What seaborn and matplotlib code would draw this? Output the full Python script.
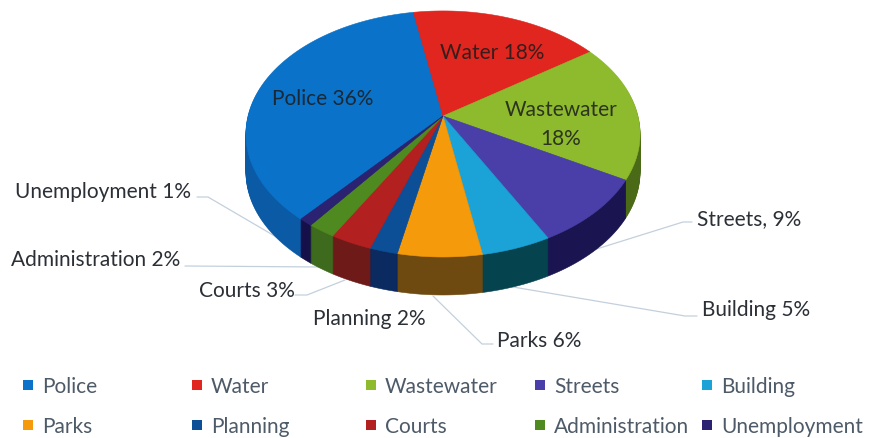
import numpy as np
import matplotlib
matplotlib.use("Agg")
import matplotlib.pyplot as plt
from matplotlib.path import Path
from matplotlib.transforms import Affine2D, Transform
import seaborn as sns

categories = ["Police", "Water", "Wastewater", "Streets", "Building",
              "Parks", "Planning", "Courts", "Administration", "Unemployment"]
shares = [36, 18, 18, 9, 5, 6, 2, 3, 2, 1]
top_colors = ["#0a72c8", "#e0261e", "#8ebb2e", "#4a3fa8", "#1ba3d8",
              "#f59a0a", "#0c4f96", "#b32020", "#4f8a20", "#2b2272"]
side_colors = ["#0a5aa5", "#a01c18", "#4a6a18", "#1a1550", "#05434f",
               "#6e4a10", "#0a2a60", "#6e1a18", "#3d6a1c", "#15104a"]

callouts = ["Unemployment 1%", "Administration 2%", "Courts 3%", "Planning 2%", "Parks 6%",
            "Building 5%", "Streets, 9%"]
callout_xy = [(15, 192), (11, 260), (199, 291), (313, 319), (497, 341), (702, 310), (697, 219)]
callout_lines = [
    [(197, 198), (208, 198), (290, 246)],
    [(185, 267), (322, 268)],
    [(295, 296), (307, 296), (345, 281)],
    [(493, 345), (482, 345), (433, 297)],
    [(697, 317), (685, 317), (513, 288)],
    [(692, 223), (683, 223), (587, 253)],
]
inside_labels = [("Police 36%", 323, 99), ("Water 18%", 492, 53),
                 ("Wastewater", 561, 110), ("18%", 561, 139)]
legend_rows = [386, 426]
legend_columns = [28, 197, 371, 540, 707]

PIE_CENTER = (443, 117)
DEPTH = 38
LABEL_SIZE = 15


class Perspective(Transform):
    """Projects the unit disc of a pie onto a tilted plane, in pixels."""
    input_dims = output_dims = 2
    has_inverse = False

    def __init__(self, a=195.0, b=120.4, p=0.146):
        super().__init__()
        self.a, self.b, self.p = a, b, p

    def transform_non_affine(self, xy):
        xy = np.asarray(xy)
        w = 1 + self.p * xy[:, 1]
        return np.column_stack([self.a * xy[:, 0] / w, -self.b * xy[:, 1] / w])

    def transform_path_non_affine(self, path):
        # Flatten the arcs first, since a projection does not keep Bezier control points.
        steps = np.linspace(0, 1, 24)
        points = np.vstack([curve(steps) for curve, _ in path.iter_bezier()])
        return Path(self.transform_non_affine(points))


sns.set_theme(style="white")
plt.rcParams["font.family"] = ["Lato", "DejaVu Sans"]

fig, ax = plt.subplots(figsize=(8.71, 4.39), dpi=100)
fig.subplots_adjust(0, 0, 1, 1)


def draw_layer(colors, offset):
    wedges, _ = ax.pie(shares, colors=colors, startangle=229.6, counterclock=False,
                       wedgeprops={"linewidth": 0.4})
    place = Perspective() + Affine2D().translate(PIE_CENTER[0], PIE_CENTER[1] + offset)
    for wedge, color in zip(wedges, colors):
        wedge.set_edgecolor(color)
        wedge.set_transform(place + ax.transData)


# The rim is a stack of dark copies, with the bright top face drawn last.
for offset in range(DEPTH, 0, -1):
    draw_layer(side_colors, offset)
draw_layer(top_colors, 0)

ax.set_aspect("auto")
ax.set_xlim(0, 871)
ax.set_ylim(439, 0)
ax.set_axis_off()

for points in callout_lines:
    xs, ys = zip(*points)
    sns.lineplot(x=list(xs), y=list(ys), ax=ax, color="#c3d0dc", lw=0.9, sort=False,
                 estimator=None, legend=False, zorder=0.5)
for text, (x, y) in zip(callouts, callout_xy):
    ax.text(x, y, text, fontsize=LABEL_SIZE, color="#2b2f36", va="center", ha="left")
for text, x, y in inside_labels:
    ax.text(x, y, text, fontsize=LABEL_SIZE, color="#1c1c1c", va="center", ha="center", alpha=0.85)

for i, (name, color) in enumerate(zip(categories, top_colors)):
    x = legend_columns[i % 5]
    y = legend_rows[i // 5]
    ax.scatter([x], [y], marker="s", s=56, color=color, linewidths=0)
    ax.text(x + 14, y + 1, name, fontsize=LABEL_SIZE, color="#4d5a68", va="center", ha="left")

fig.savefig("out.png", dpi=100)
